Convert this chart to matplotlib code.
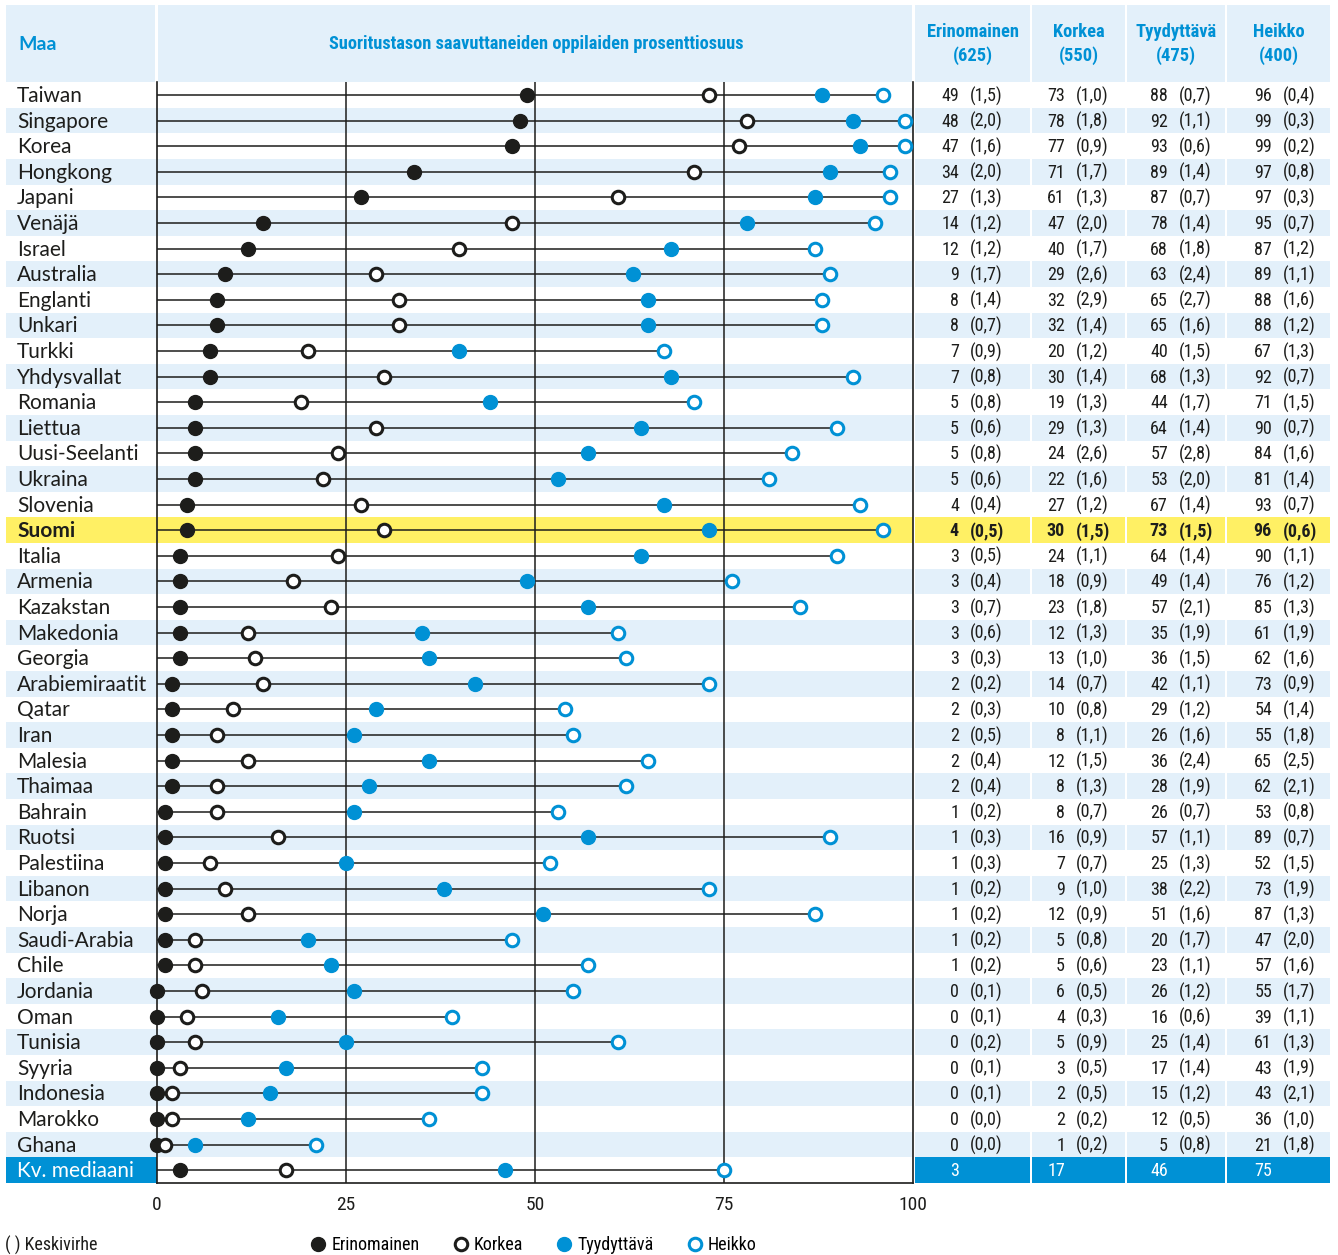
import matplotlib.pyplot as plt
from matplotlib.lines import Line2D
from matplotlib import font_manager as fm

# Maat ja suoritustasot (%), keskivirheet suluissa
maat = ["Taiwan", "Singapore", "Korea", "Hongkong", "Japani", "Venäjä", "Israel",
        "Australia", "Englanti", "Unkari", "Turkki", "Yhdysvallat", "Romania",
        "Liettua", "Uusi-Seelanti", "Ukraina", "Slovenia", "Suomi", "Italia",
        "Armenia", "Kazakstan", "Makedonia", "Georgia", "Arabiemiraatit", "Qatar",
        "Iran", "Malesia", "Thaimaa", "Bahrain", "Ruotsi", "Palestiina", "Libanon",
        "Norja", "Saudi-Arabia", "Chile", "Jordania", "Oman", "Tunisia", "Syyria",
        "Indonesia", "Marokko", "Ghana"]
erinomainen = [49, 48, 47, 34, 27, 14, 12, 9, 8, 8, 7, 7, 5, 5, 5, 5, 4, 4, 3, 3, 3,
               3, 3, 2, 2, 2, 2, 2, 1, 1, 1, 1, 1, 1, 1, 0, 0, 0, 0, 0, 0, 0]
erinomainen_se = ["1,5", "2,0", "1,6", "2,0", "1,3", "1,2", "1,2", "1,7", "1,4", "0,7",
                  "0,9", "0,8", "0,8", "0,6", "0,8", "0,6", "0,4", "0,5", "0,5", "0,4",
                  "0,7", "0,6", "0,3", "0,2", "0,3", "0,5", "0,4", "0,4", "0,2", "0,3",
                  "0,3", "0,2", "0,2", "0,2", "0,2", "0,1", "0,1", "0,2", "0,1", "0,1",
                  "0,0", "0,0"]
korkea = [73, 78, 77, 71, 61, 47, 40, 29, 32, 32, 20, 30, 19, 29, 24, 22, 27, 30, 24,
          18, 23, 12, 13, 14, 10, 8, 12, 8, 8, 16, 7, 9, 12, 5, 5, 6, 4, 5, 3, 2, 2, 1]
korkea_se = ["1,0", "1,8", "0,9", "1,7", "1,3", "2,0", "1,7", "2,6", "2,9", "1,4",
             "1,2", "1,4", "1,3", "1,3", "2,6", "1,6", "1,2", "1,5", "1,1", "0,9",
             "1,8", "1,3", "1,0", "0,7", "0,8", "1,1", "1,5", "1,3", "0,7", "0,9",
             "0,7", "1,0", "0,9", "0,8", "0,6", "0,5", "0,3", "0,9", "0,5", "0,5",
             "0,2", "0,2"]
tyydyttava = [88, 92, 93, 89, 87, 78, 68, 63, 65, 65, 40, 68, 44, 64, 57, 53, 67, 73,
              64, 49, 57, 35, 36, 42, 29, 26, 36, 28, 26, 57, 25, 38, 51, 20, 23, 26,
              16, 25, 17, 15, 12, 5]
tyydyttava_se = ["0,7", "1,1", "0,6", "1,4", "0,7", "1,4", "1,8", "2,4", "2,7", "1,6",
                 "1,5", "1,3", "1,7", "1,4", "2,8", "2,0", "1,4", "1,5", "1,4", "1,4",
                 "2,1", "1,9", "1,5", "1,1", "1,2", "1,6", "2,4", "1,9", "0,7", "1,1",
                 "1,3", "2,2", "1,6", "1,7", "1,1", "1,2", "0,6", "1,4", "1,4", "1,2",
                 "0,5", "0,8"]
heikko = [96, 99, 99, 97, 97, 95, 87, 89, 88, 88, 67, 92, 71, 90, 84, 81, 93, 96, 90,
          76, 85, 61, 62, 73, 54, 55, 65, 62, 53, 89, 52, 73, 87, 47, 57, 55, 39, 61,
          43, 43, 36, 21]
heikko_se = ["0,4", "0,3", "0,2", "0,8", "0,3", "0,7", "1,2", "1,1", "1,6", "1,2",
             "1,3", "0,7", "1,5", "0,7", "1,6", "1,4", "0,7", "0,6", "1,1", "1,2",
             "1,3", "1,9", "1,6", "0,9", "1,4", "1,8", "2,5", "2,1", "0,8", "0,7",
             "1,5", "1,9", "1,3", "2,0", "1,6", "1,7", "1,1", "1,3", "1,9", "2,1",
             "1,0", "1,8"]
mediaani = [3, 17, 46, 75]

tasot = ["Erinomainen", "Korkea", "Tyydyttävä", "Heikko"]
rajat = ["(625)", "(550)", "(475)", "(400)"]

SININEN = "#0091d5"
VAALEA = "#e3f0fa"
KELTAINEN = "#fff064"
MUSTA = "#1d1d1b"
NORMAALI = ["Lato", "DejaVu Sans"]

# kapea fontti taulukkoon, jos sellainen löytyy
fontit = fm.fontManager.ttflist
nimet = {f.name for f in fontit}
KAPEA, VENYTYS, KOKO = ["Roboto", "DejaVu Sans"], "normal", 12
for ehdokas in ["Roboto Condensed", "Liberation Sans Narrow", "Open Sans Condensed",
                "Noto Sans Condensed", "Arial Narrow"]:
    if ehdokas in nimet:
        KAPEA, VENYTYS, KOKO = [ehdokas, "DejaVu Sans"], "normal", 13
        break
else:
    if any(f.name == "DejaVu Sans" and "ondensed" in f.fname for f in fontit):
        KAPEA, VENYTYS, KOKO = ["DejaVu Sans"], "condensed", 12.5

W, H = 1338, 1255
ROW0, ROWH = 95, 25.6
n = len(maat)

fig = plt.figure(figsize=(W / 100, H / 100), dpi=100)
bg = fig.add_axes([0, 0, 1, 1])
bg.set_xlim(0, W)
bg.set_ylim(H, 0)
bg.axis("off")

solut = [(915, 1030), (1032, 1125), (1127, 1225), (1227, 1330)]
arvo_x = [959, 1065, 1168, 1272]


def rivi_y(i):
    return ROW0 + ROWH * i


def kapea(x, y, s, **kw):
    kw.setdefault("fontsize", KOKO)
    kw.setdefault("color", MUSTA)
    kw.setdefault("va", "center")
    return bg.text(x, y, s, family=KAPEA, fontstretch=VENYTYS, **kw)


# otsikkorivi
bg.add_patch(plt.Rectangle((6, 5), 149, 77, color=VAALEA, lw=0))
bg.add_patch(plt.Rectangle((158, 5), 754, 77, color=VAALEA, lw=0))
for (a, b) in solut:
    bg.add_patch(plt.Rectangle((a, 5), b - a, 77, color=VAALEA, lw=0))
bg.text(18, 44, "Maa", color=SININEN, fontsize=14, fontweight="bold",
        family=NORMAALI, va="center")
kapea(536, 44, "Suoritustason saavuttaneiden oppilaiden prosenttiosuus",
      color=SININEN, fontweight="bold", ha="center", fontsize=KOKO + 0.2)
for (a, b), t, r in zip(solut, tasot, rajat):
    kapea((a + b) / 2, 32, t, color=SININEN, fontweight="bold", ha="center",
          fontsize=KOKO + 0.3)
    kapea((a + b) / 2, 56, r, color=SININEN, fontweight="bold", ha="center",
          fontsize=KOKO + 0.3)

# raidat ja taulukko
for i, maa in enumerate(maat):
    y = rivi_y(i)
    suomi = maa == "Suomi"
    vari = KELTAINEN if suomi else (VAALEA if i % 2 == 1 else None)
    if vari:
        bg.add_patch(plt.Rectangle((6, y - ROWH / 2), 907, ROWH, color=vari, lw=0))
        for (a, b) in solut:
            bg.add_patch(plt.Rectangle((a, y - ROWH / 2), b - a, ROWH, color=vari, lw=0))
    paino = "bold" if suomi else "normal"
    bg.text(17, y + 1, maa, fontsize=15, family=NORMAALI, fontweight=paino,
            va="center", color=MUSTA)
    arvot = [erinomainen[i], korkea[i], tyydyttava[i], heikko[i]]
    virheet = [erinomainen_se[i], korkea_se[i], tyydyttava_se[i], heikko_se[i]]
    for x, v, s in zip(arvo_x, arvot, virheet):
        kapea(x, y + 1, str(v), fontweight=paino, ha="right")
        kapea(x + 11, y + 1, f"({s})", fontweight=paino, ha="left")

# kansainvälinen mediaani
ym = rivi_y(n)
bg.add_patch(plt.Rectangle((6, ym - ROWH / 2), 151, ROWH, color=SININEN, lw=0))
for (a, b) in solut:
    bg.add_patch(plt.Rectangle((a, ym - ROWH / 2), b - a, ROWH, color=SININEN, lw=0))
bg.text(17, ym + 1, "Kv. mediaani", fontsize=15, family=NORMAALI, va="center",
        color="white")
for x, v in zip(arvo_x, mediaani):
    kapea(x, ym + 1, str(v), ha="right", color="white")

# pisteet
ax = fig.add_axes([157 / W, 1 - 1183 / H, (913 - 157) / W, (1183 - 82) / H])
ax.patch.set_alpha(0)
ax.set_xlim(0, 100)
ax.set_ylim(n + 0.5, (82 - ROW0) / ROWH)

rivit = list(range(n + 1))
e = erinomainen + [mediaani[0]]
k = korkea + [mediaani[1]]
t = tyydyttava + [mediaani[2]]
h = heikko + [mediaani[3]]

for xv in [25, 50, 75]:
    ax.axvline(xv, color=MUSTA, lw=1.1, zorder=1)
ax.hlines(rivit, 0, h, color=MUSTA, lw=1.1, zorder=2)
ax.plot(e, rivit, "o", ms=10, color=MUSTA, ls="none", zorder=3, clip_on=False)
ax.plot(k, rivit, "o", ms=9, mfc="white", mec=MUSTA, mew=2.2, ls="none",
        zorder=4, clip_on=False)
ax.plot(t, rivit, "o", ms=10, color=SININEN, ls="none", zorder=3, clip_on=False)
ax.plot(h, rivit, "o", ms=9, mfc="white", mec=SININEN, mew=2.2, ls="none",
        zorder=4, clip_on=False)

ax.spines["top"].set_visible(False)
for s in ["left", "right", "bottom"]:
    ax.spines[s].set_color(MUSTA)
    ax.spines[s].set_linewidth(1.2)
ax.set_yticks([])
ax.set_xticks([0, 25, 50, 75, 100])
ax.tick_params(axis="x", length=0, pad=9, labelsize=KOKO + 1, colors=MUSTA)
for lab in ax.get_xticklabels():
    lab.set_family(KAPEA)
    lab.set_fontstretch(VENYTYS)

# selite
kahvat = [
    Line2D([], [], marker="o", ls="none", ms=10, color=MUSTA),
    Line2D([], [], marker="o", ls="none", ms=9, mfc="white", mec=MUSTA, mew=2.2),
    Line2D([], [], marker="o", ls="none", ms=10, color=SININEN),
    Line2D([], [], marker="o", ls="none", ms=9, mfc="white", mec=SININEN, mew=2.2),
]
fig.legend(kahvat, tasot, loc="center", bbox_to_anchor=(534 / W, 1 - 1245 / H),
           ncol=4, frameon=False, handlelength=0.8, handletextpad=0.35,
           columnspacing=1.85,
           prop=fm.FontProperties(family=KAPEA, stretch=VENYTYS, size=KOKO))
kapea(5, 1245, "( ) Keskivirhe", fontsize=KOKO)

fig.savefig("out.png", dpi=100)
